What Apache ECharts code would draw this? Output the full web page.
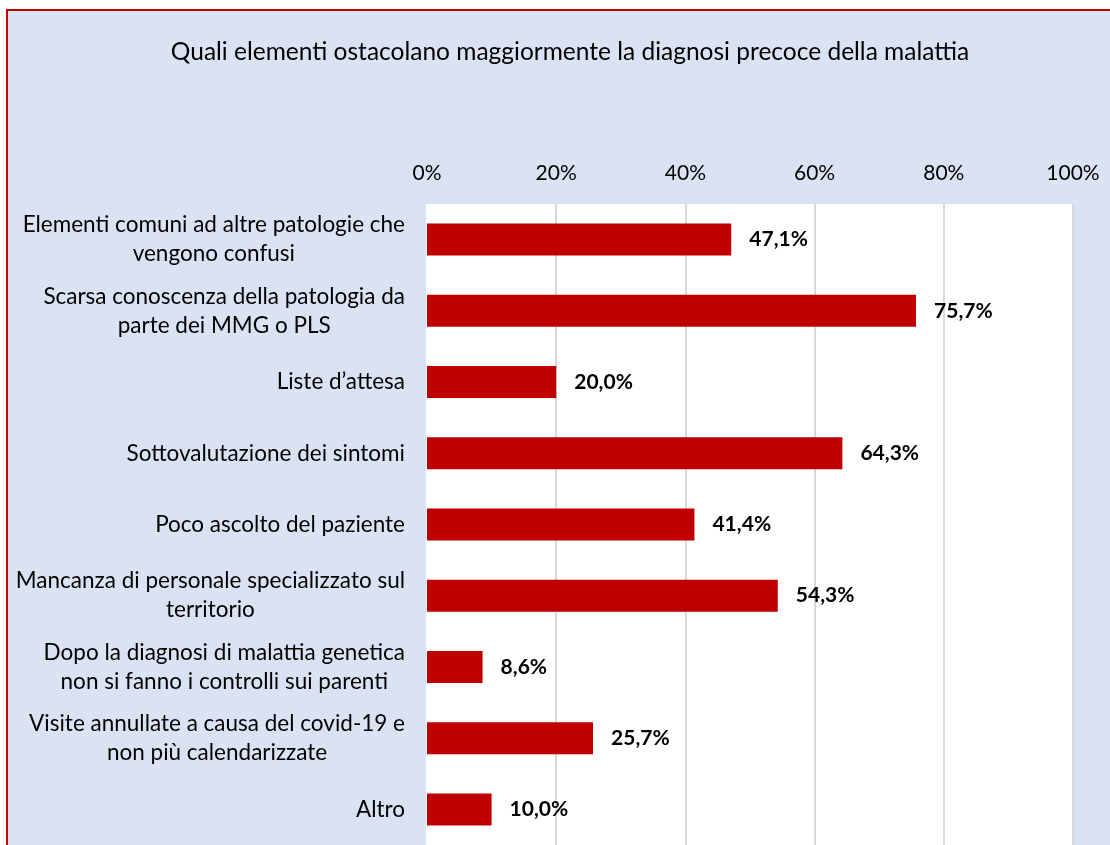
<!DOCTYPE html>
<html>
<head>
<meta charset="utf-8">
<script src="https://cdn.jsdelivr.net/npm/echarts@6/dist/echarts.min.js"></script>
<style>
  html, body { margin: 0; padding: 0; background: #fff; }
  #chart { width: 1110px; height: 845px; }
</style>
</head>
<body>
<div id="chart"></div>
<script>
const categories = [
  'Elementi comuni ad altre patologie che\nvengono confusi',
  'Scarsa conoscenza della patologia da\nparte dei MMG o PLS',
  'Liste d\u2019attesa',
  'Sottovalutazione dei sintomi',
  'Poco ascolto del paziente',
  'Mancanza di personale specializzato sul\nterritorio',
  'Dopo la diagnosi di malattia genetica\nnon si fanno i controlli sui parenti',
  'Visite annullate a causa del covid-19 e\nnon pi\u00f9 calendarizzate',
  'Altro'
];
const values = [47.1, 75.7, 20.0, 64.3, 41.4, 54.3, 8.6, 25.7, 10.0];

const font = 'Lato, "Open Sans", sans-serif';
const chart = echarts.init(document.getElementById('chart'));

chart.setOption({
  backgroundColor: '#ffffff',
  animation: false,
  graphic: [{
    type: 'rect',
    z: -10,
    shape: { x: 7, y: 10, width: 1200, height: 900 },
    style: { fill: '#DAE3F3', stroke: '#C00000', lineWidth: 2 }
  }],
  title: {
    text: 'Quali elementi ostacolano maggiormente la diagnosi precoce della malattia',
    left: 565,
    top: 35,
    textAlign: 'center',
    textStyle: { fontFamily: font, fontSize: 24.5, fontWeight: 'normal', color: '#000' }
  },
  grid: {
    left: 427, top: 204, width: 646, height: 645,
    show: true, backgroundColor: '#ffffff', borderWidth: 0
  },
  xAxis: {
    type: 'value',
    position: 'top',
    min: 0, max: 100, interval: 20,
    axisLine: { show: false },
    axisTick: { show: false },
    axisLabel: {
      margin: 20,
      formatter: '{value}%',
      fontFamily: font, fontSize: 21, color: '#000'
    },
    splitLine: {
      lineStyle: { color: ['#ffffff', '#D9D9D9', '#D9D9D9', '#D9D9D9', '#D9D9D9', '#D9D9D9'], width: 2 }
    }
  },
  yAxis: {
    type: 'category',
    data: categories,
    inverse: true,
    axisLine: { show: false },
    axisTick: { show: false },
    axisLabel: {
      margin: 22,
      align: 'right',
      // each line centred inside a right-aligned block, like the original
      formatter: v => v.split('\n').map(s => '{c|' + s + '}').join('\n'),
      rich: {
        c: { align: 'center', fontFamily: font, fontSize: 22.5, color: '#000', lineHeight: 29 }
      }
    }
  },
  series: [{
    type: 'bar',
    data: values,
    barWidth: 32,
    itemStyle: { color: '#C00000' },
    label: {
      show: true,
      position: 'right',
      distance: 18,
      fontFamily: font, fontSize: 21, fontWeight: 'bold', color: '#000',
      formatter: p => p.value.toFixed(1).replace('.', ',') + '%'
    }
  }]
});
</script>
</body>
</html>
